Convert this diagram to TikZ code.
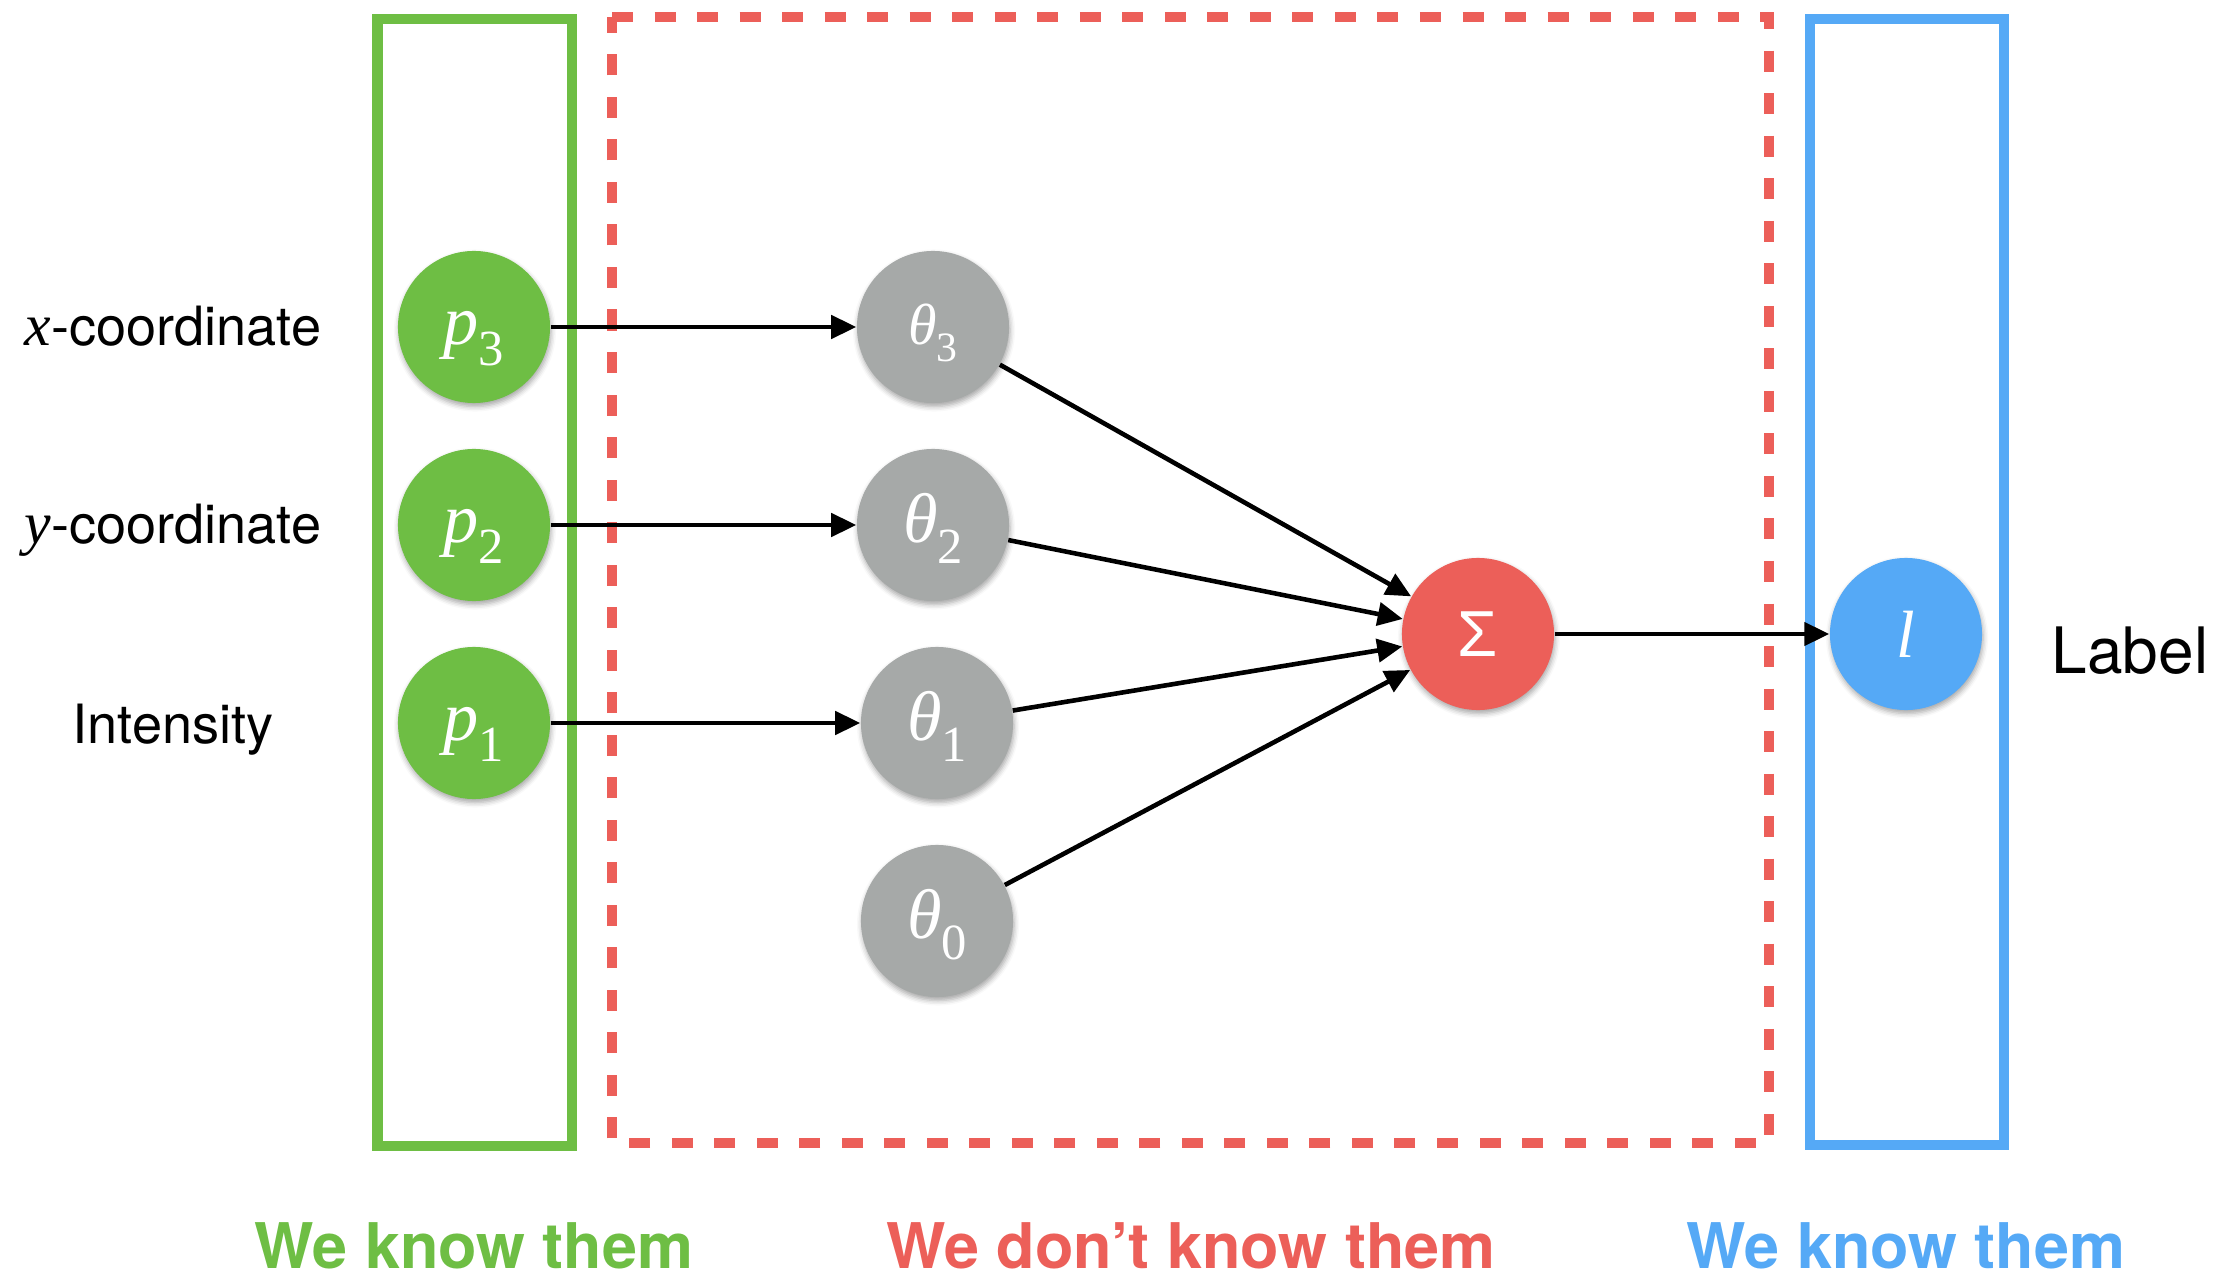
\documentclass[tikz,border=0pt]{standalone}
\usepackage{fontspec}
\setmainfont{TeX Gyre Heros}
\newfontfamily\tmsfont{Liberation Serif}
\newfontfamily\lsfont{Liberation Sans}
\usetikzlibrary{arrows.meta}
\usetikzlibrary{shadows.blur}
\definecolor{knowngreen}{HTML}{6EBE44}
\definecolor{unknownred}{HTML}{EC5F59}
\definecolor{knownblue}{HTML}{55A9F6}
\definecolor{weightgray}{HTML}{A6A9A8}
\newcommand{\subvar}[2]{{\itshape #1}\raisebox{-0.3em}{\scalebox{0.72}{#2}}}
\tikzset{unit/.style = {circle, minimum size=1.52cm, inner sep=0, text=white,
                        font=\tmsfont\fontsize{20}{22}\selectfont,
                        text height=0.34cm, text depth=0cm,
                        blur shadow={shadow xshift=0.01cm, shadow yshift=-0.035cm,
                                     shadow blur radius=0.05cm, shadow opacity=35}}}
\tikzset{edge/.style = {line width=0.046cm, -{Triangle[length=0.25cm,width=0.23cm]}}}
\tikzset{feat/.style = {font=\fontsize{15.4}{18}\selectfont, anchor=base}}
\tikzset{team/.style = {font=\bfseries\fontsize{17.9}{20}\selectfont, anchor=base}}
\tikzset{groupbox/.style = {line width=0.1cm}}

\begin{document}
\begin{tikzpicture}[x=0.01cm, y=-0.01cm]
  \useasboundingbox (0,0) rectangle (2232,1279);

  % the three groups
  \draw[groupbox, knowngreen] (377.5,19) rectangle (572,1145.5);
  \draw[groupbox, unknownred, dash pattern=on 0.21cm off 0.215cm]
    (612,17) -- (1769,17) -- (1769,1143) -- (612,1143) -- cycle;
  \draw[groupbox, knownblue] (1809.5,19) rectangle (2003.5,1145);

  % inputs
  \node[unit, fill=knowngreen] (p3) at (474,327) {\subvar{p}{3}};
  \node[unit, fill=knowngreen] (p2) at (474,525) {\subvar{p}{2}};
  \node[unit, fill=knowngreen] (p1) at (474,723) {\subvar{p}{1}};

  % weights
  \node[unit, fill=weightgray, font=\tmsfont\fontsize{16.5}{18}\selectfont] (t3) at (933,327) {\subvar{θ}{3}};
  \node[unit, fill=weightgray] (t2) at (933,525) {\subvar{θ}{2}};
  \node[unit, fill=weightgray] (t1) at (937,723) {\subvar{θ}{1}};
  \node[unit, fill=weightgray] (t0) at (937,921) {\subvar{θ}{0}};

  % sum and output
  \node[unit, fill=unknownred, text height=, text depth=,
        font=\lsfont\fontsize{18.5}{20}\selectfont] (sum) at (1478,634) {Σ};
  \node[unit, fill=knownblue, text height=, text depth=,
        font=\tmsfont\itshape\fontsize{19}{20}\selectfont] (out) at (1906,634) {l};

  \foreach \i in {1,2,3}
    \draw[edge] (p\i) -- (t\i);
  \foreach \i in {0,...,3}
    \draw[edge] (t\i) -- (sum);
  \draw[edge] (sum) -- (out);

  % feature names
  \node[feat] (xlab) at (173,346) {{\tmsfont\itshape\fontsize{17}{18}\selectfont x}-coordinate};
  \node[feat] (ylab) at (173,544) {{\tmsfont\itshape\fontsize{17}{18}\selectfont y}-coordinate};
  \node[feat] (ilab) at (173,743) {Intensity};
  \node[anchor=base, font=\fontsize{18.2}{20}\selectfont] (lab) at (2130,673) {Label};

  % captions
  \node[team, text=knowngreen] (cap1) at (474,1268) {We know them};
  \node[team, text=unknownred] (cap2) at (1191,1268) {We don’t know them};
  \node[team, text=knownblue] (cap3) at (1906,1268) {We know them};
\end{tikzpicture}
\end{document}
